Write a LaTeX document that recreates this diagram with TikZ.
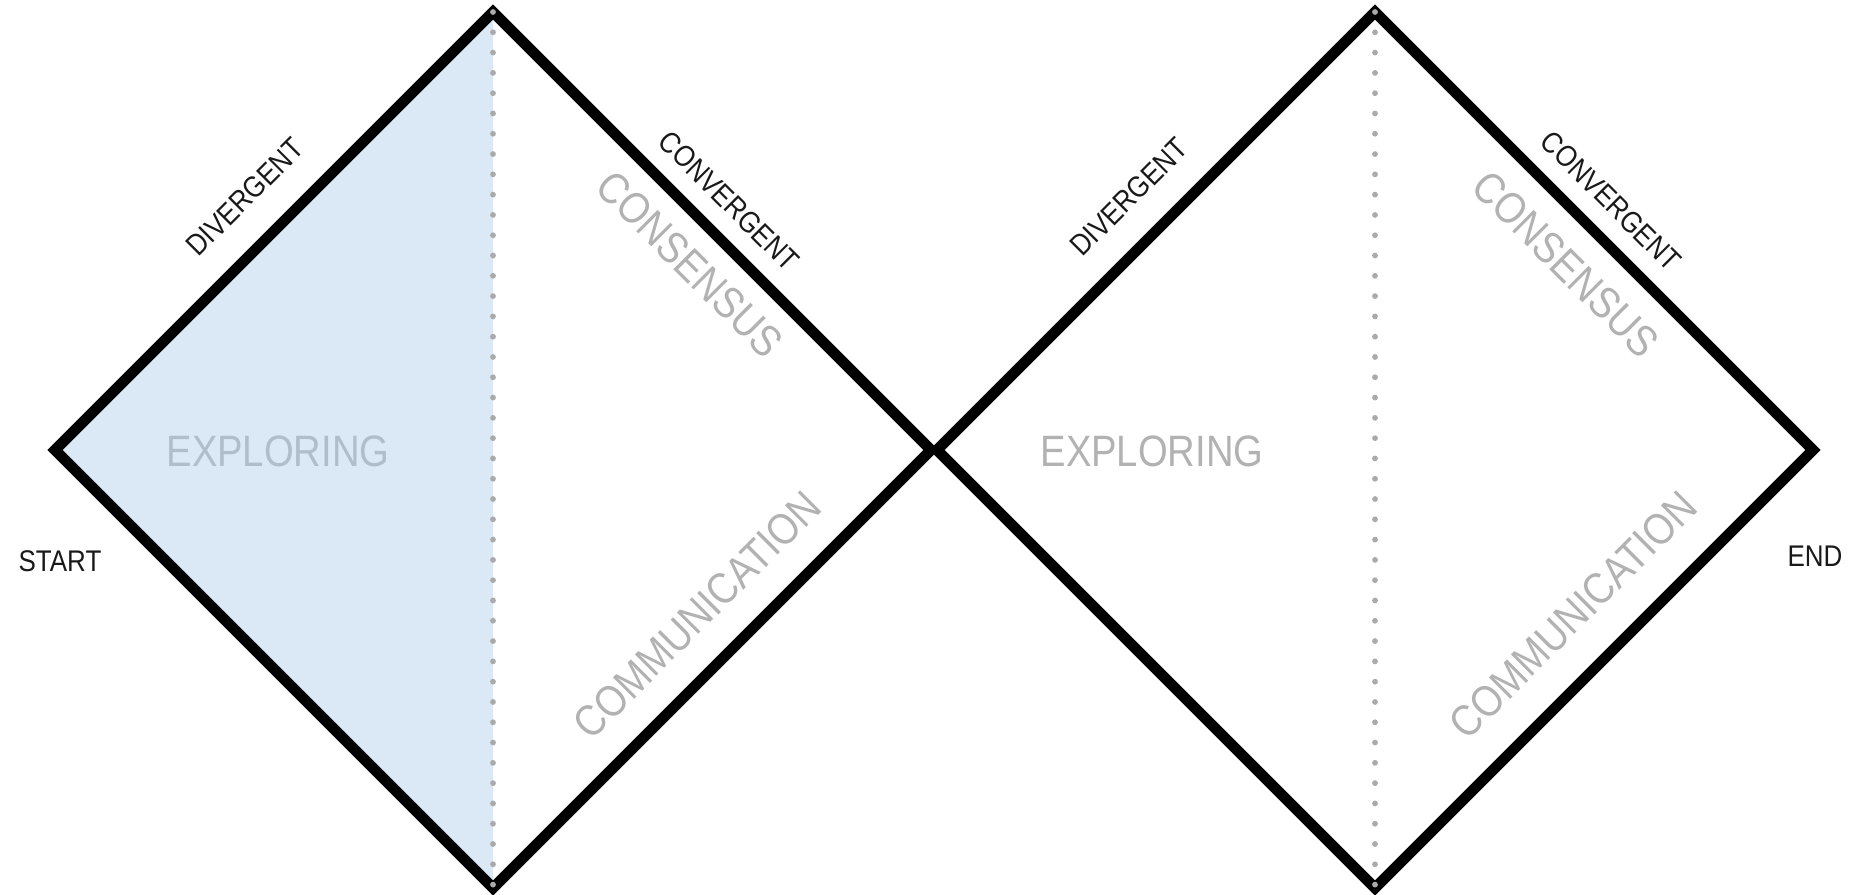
\documentclass[tikz,border=0pt]{standalone}
\usepackage{fontspec}
\setmainfont{Liberation Sans}[FakeStretch=0.87]
\usepackage{xcolor}
\usetikzlibrary{positioning}

\definecolor{phasefill}{RGB}{219,232,245}
\definecolor{phasegray}{RGB}{178,178,178}
\definecolor{phasegrayblue}{RGB}{176,189,202}
\definecolor{dotgray}{RGB}{170,170,170}
\definecolor{labelblack}{RGB}{25,25,25}

\begin{document}
\begin{tikzpicture}[
    x=0.02cm, y=-0.02cm,
    edge/.style={line width=6.2pt, line join=miter, draw=black},
    axisdots/.style={draw=dotgray, line width=3.3pt, line cap=round, dash pattern=on 0pt off 11.55pt},
    side/.style={font=\fontsize{17}{20}\selectfont, text=labelblack, inner sep=0pt},
    phase/.style={font=\fontsize{25}{30}\selectfont, text=phasegray, inner sep=0pt}
]
\useasboundingbox (0,0) rectangle (1870,894);

% first diamond
\coordinate (l1) at (55,450);
\coordinate (t1) at (493,12);
\coordinate (r1) at (931,450);
\coordinate (b1) at (493,888);

% second diamond
\coordinate (l2) at (937,450);
\coordinate (t2) at (1375,12);
\coordinate (r2) at (1813,450);
\coordinate (b2) at (1375,888);

% shaded half
\fill[phasefill] (l1) -- (t1) -- (b1) -- cycle;

\draw[edge] (l1) -- (t1) -- (r1) -- (b1) -- cycle;
\draw[edge] (l2) -- (t2) -- (r2) -- (b2) -- cycle;

\draw[axisdots] (t1) -- (b1);
\draw[axisdots] (t2) -- (b2);

% edge labels
\node[side] (start) at (60,561) {START};
\node[side] (end) at (1815,556) {END};

\node[side, rotate=45] (div1) at (245,197) {DIVERGENT};
\node[side, rotate=-45] (conv1) at (729,201) {CONVERGENT};
\node[side, rotate=45] (div2) at (1129,197) {DIVERGENT};
\node[side, rotate=-45] (conv2) at (1611,201) {CONVERGENT};

% phase labels
\node[phase, text=phasegrayblue] (expl1) at (278,451) {EXPLORING};
\node[phase, rotate=-45] (cons1) at (690,264) {CONSENSUS};
\node[phase, rotate=45] (comm1) at (697,615) {COMMUNICATION};

\node[phase] (expl2) at (1152,451) {EXPLORING};
\node[phase, rotate=-45] (cons2) at (1566,264) {CONSENSUS};
\node[phase, rotate=45] (comm2) at (1573,615) {COMMUNICATION};

\end{tikzpicture}
\end{document}
